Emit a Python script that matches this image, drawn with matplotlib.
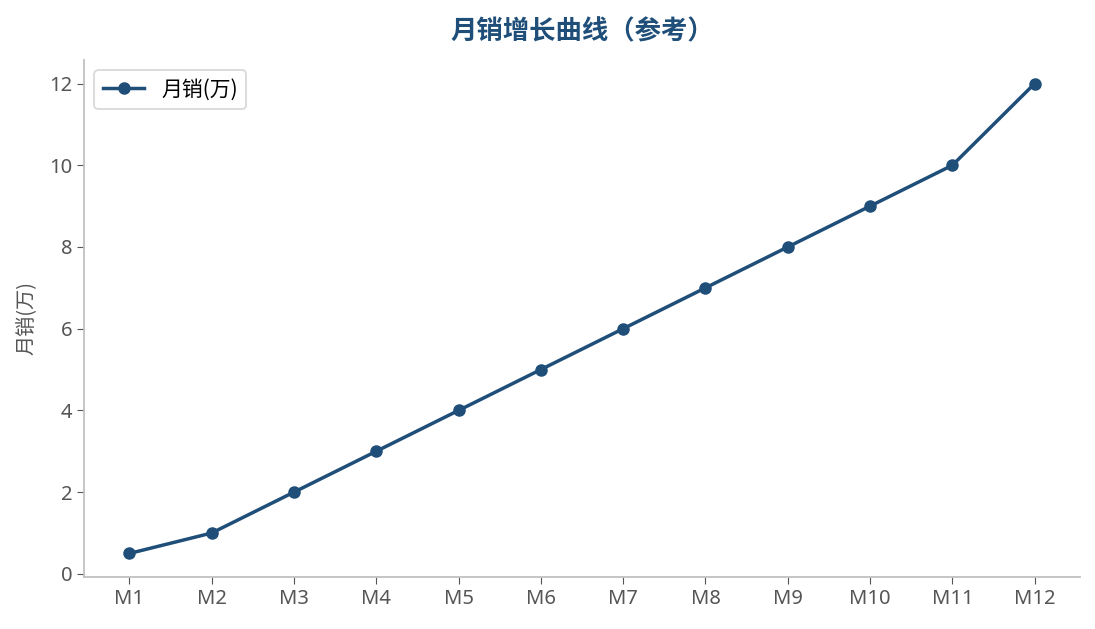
import matplotlib
matplotlib.use("Agg")
import matplotlib.pyplot as plt

plt.rcParams['font.family'] = ['Noto Sans', 'Noto Sans CJK SC', 'DejaVu Sans']

months = ["M1", "M2", "M3", "M4", "M5", "M6", "M7", "M8", "M9", "M10", "M11", "M12"]
sales = [0.5, 1, 2, 3, 4, 5, 6, 7, 8, 9, 10, 12]

color = "#1f4e79"
fig = plt.figure(figsize=(10.95, 6.29), dpi=100)
ax = fig.add_axes([0.0767, 0.0827, 0.9096, 0.8219])
x = list(range(len(months)))
ax.plot(x, sales, color=color, linewidth=2.5, marker='o', markersize=8, label="月销(万)")
ax.set_xticks(x)
ax.set_xticklabels(months)
ax.set_ylabel("月销(万)", fontsize=14.5, color="#555555", labelpad=8,
              family=['Noto Sans CJK SC', 'DejaVu Sans'])
ax.set_title("月销增长曲线（参考）", fontsize=19, fontweight='bold', color=color, pad=15,
             family=['Noto Sans CJK SC', 'DejaVu Sans'])
for s in ["top", "right"]:
    ax.spines[s].set_visible(False)
for s in ["left", "bottom"]:
    ax.spines[s].set_color("#c0c0c0")
    ax.spines[s].set_linewidth(1.3)
ax.tick_params(colors="#555555", labelsize=14.5, length=5)
leg = ax.legend(loc="upper left", frameon=True, fancybox=True,
                prop={'family': ['Noto Sans CJK SC', 'DejaVu Sans'], 'size': 15})
leg.get_frame().set_edgecolor("#d0d0d0")
leg.get_frame().set_linewidth(1.3)
fig.savefig("out.png", dpi=100)
